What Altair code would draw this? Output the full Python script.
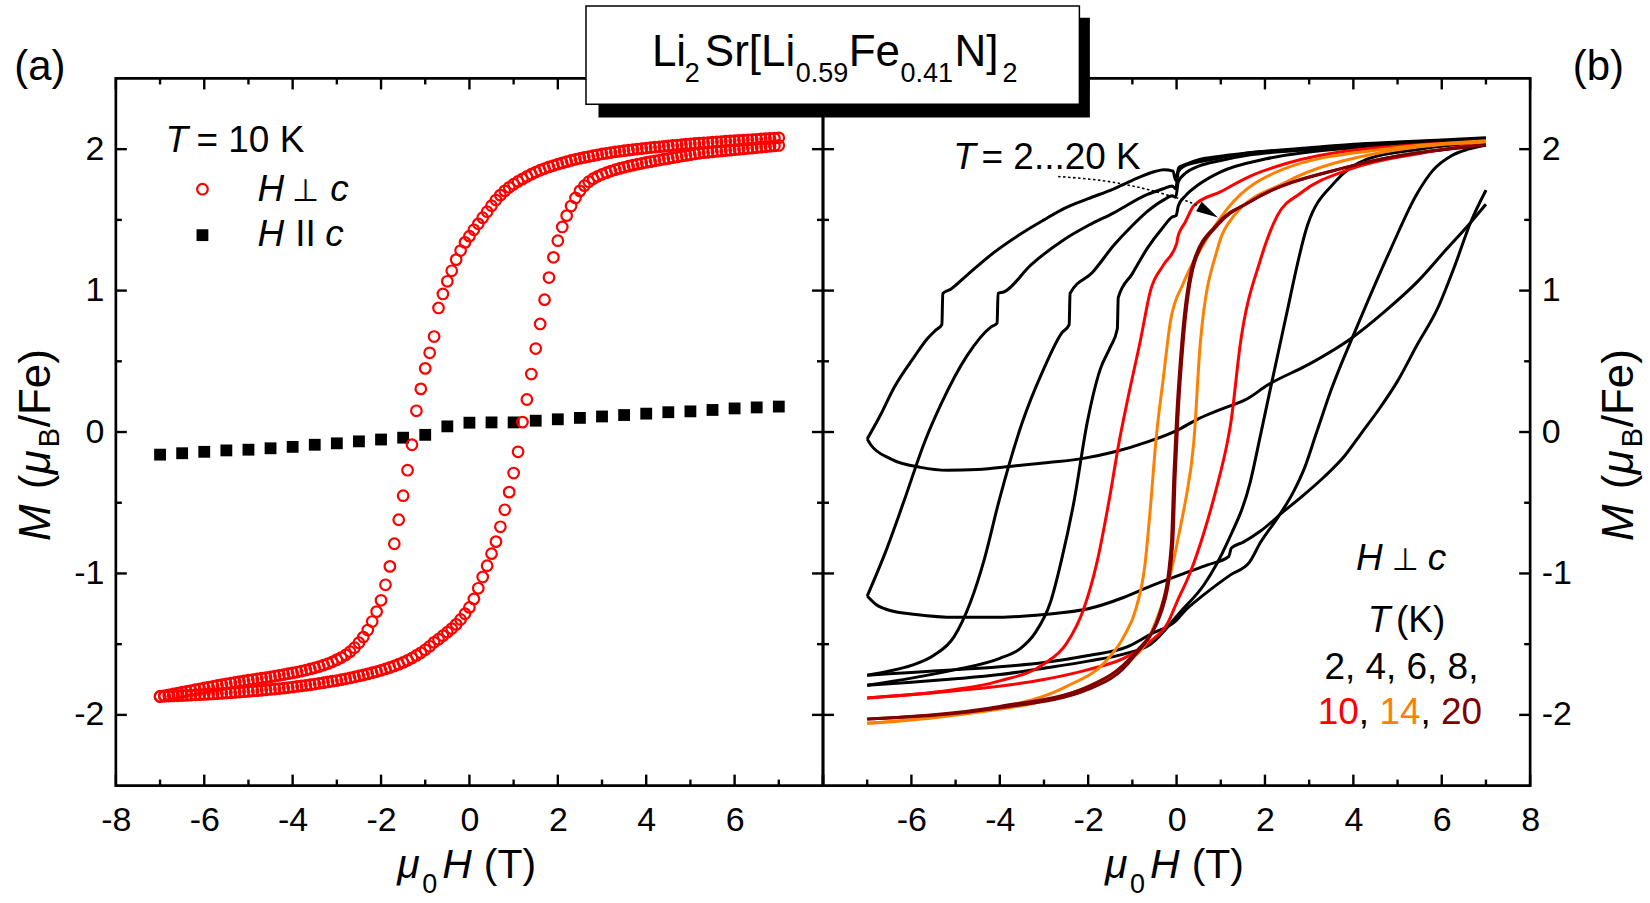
import altair as alt
import pandas as pd

FONT = "Liberation Sans, Arial, Helvetica, DejaVu Sans, sans-serif"

# ---------------------------------------------------------------------------
# (a) T = 10 K, field sweep in 0.1 T steps; magnetisation in mu_B per Fe
sweep_field = [
    -7.0, -6.9, -6.8, -6.7, -6.6, -6.5, -6.4, -6.3, -6.2, -6.1,
    -6.0, -5.9, -5.8, -5.7, -5.6, -5.5, -5.4, -5.3, -5.2, -5.1,
    -5.0, -4.9, -4.8, -4.7, -4.6, -4.5, -4.4, -4.3, -4.2, -4.1,
    -4.0, -3.9, -3.8, -3.7, -3.6, -3.5, -3.4, -3.3, -3.2, -3.1,
    -3.0, -2.9, -2.8, -2.7, -2.6, -2.5, -2.4, -2.3, -2.2, -2.1,
    -2.0, -1.9, -1.8, -1.7, -1.6, -1.5, -1.4, -1.3, -1.2, -1.1,
    -1.0, -0.9, -0.8, -0.7, -0.6, -0.5, -0.4, -0.3, -0.2, -0.1,
    0.0, 0.1, 0.2, 0.3, 0.4, 0.5, 0.6, 0.7, 0.8, 0.9,
    1.0, 1.1, 1.2, 1.3, 1.4, 1.5, 1.6, 1.7, 1.8, 1.9,
    2.0, 2.1, 2.2, 2.3, 2.4, 2.5, 2.6, 2.7, 2.8, 2.9,
    3.0, 3.1, 3.2, 3.3, 3.4, 3.5, 3.6, 3.7, 3.8, 3.9,
    4.0, 4.1, 4.2, 4.3, 4.4, 4.5, 4.6, 4.7, 4.8, 4.9,
    5.0, 5.1, 5.2, 5.3, 5.4, 5.5, 5.6, 5.7, 5.8, 5.9,
    6.0, 6.1, 6.2, 6.3, 6.4, 6.5, 6.6, 6.7, 6.8, 6.9,
    7.0,
]

# H perpendicular to c, branch measured while the field is lowered from +7 T
m_perp_down = [
    -1.870, -1.864, -1.858, -1.852, -1.846, -1.840, -1.834, -1.828, -1.822, -1.816,
    -1.810, -1.804, -1.798, -1.792, -1.786, -1.780, -1.775, -1.770, -1.765, -1.760,
    -1.755, -1.750, -1.746, -1.741, -1.736, -1.731, -1.726, -1.720, -1.715, -1.709,
    -1.703, -1.697, -1.690, -1.683, -1.675, -1.667, -1.658, -1.648, -1.637, -1.625,
    -1.610, -1.595, -1.576, -1.553, -1.525, -1.490, -1.450, -1.400, -1.340, -1.270,
    -1.190, -1.080, -0.950, -0.790, -0.620, -0.450, -0.270, -0.090, 0.150, 0.305,
    0.450, 0.560, 0.675, 0.877, 0.976, 1.066, 1.140, 1.219, 1.283, 1.341,
    1.385, 1.430, 1.472, 1.515, 1.558, 1.600, 1.640, 1.675, 1.705, 1.730,
    1.752, 1.772, 1.790, 1.807, 1.823, 1.838, 1.851, 1.863, 1.874, 1.884,
    1.894, 1.903, 1.912, 1.920, 1.928, 1.935, 1.942, 1.948, 1.954, 1.960,
    1.966, 1.971, 1.976, 1.981, 1.985, 1.989, 1.993, 1.997, 2.001, 2.004,
    2.008, 2.011, 2.014, 2.017, 2.020, 2.023, 2.026, 2.029, 2.032, 2.035,
    2.037, 2.040, 2.042, 2.045, 2.047, 2.050, 2.052, 2.054, 2.056, 2.058,
    2.060, 2.062, 2.064, 2.066, 2.068, 2.070, 2.072, 2.074, 2.076, 2.078,
    2.080,
]

# H perpendicular to c, branch measured while the field is raised from -7 T
m_perp_up = [
    -1.870, -1.869, -1.867, -1.866, -1.865, -1.863, -1.862, -1.860, -1.858, -1.857,
    -1.855, -1.854, -1.852, -1.850, -1.848, -1.846, -1.844, -1.841, -1.839, -1.836,
    -1.834, -1.831, -1.829, -1.826, -1.823, -1.820, -1.817, -1.814, -1.811, -1.807,
    -1.803, -1.799, -1.795, -1.791, -1.787, -1.782, -1.777, -1.772, -1.767, -1.762,
    -1.757, -1.751, -1.745, -1.739, -1.732, -1.725, -1.718, -1.710, -1.702, -1.694,
    -1.685, -1.675, -1.665, -1.654, -1.642, -1.629, -1.614, -1.598, -1.580, -1.561,
    -1.540, -1.515, -1.487, -1.465, -1.440, -1.415, -1.390, -1.360, -1.325, -1.285,
    -1.240, -1.180, -1.105, -1.025, -0.945, -0.860, -0.775, -0.670, -0.550, -0.425,
    -0.290, -0.140, 0.070, 0.230, 0.410, 0.590, 0.764, 0.936, 1.092, 1.235,
    1.353, 1.450, 1.530, 1.598, 1.655, 1.705, 1.742, 1.770, 1.791, 1.808,
    1.822, 1.834, 1.845, 1.855, 1.864, 1.872, 1.880, 1.887, 1.894, 1.900,
    1.906, 1.912, 1.918, 1.923, 1.929, 1.934, 1.940, 1.945, 1.951, 1.956,
    1.961, 1.966, 1.971, 1.975, 1.978, 1.981, 1.984, 1.987, 1.990, 1.993,
    1.996, 1.999, 2.002, 2.005, 2.008, 2.011, 2.014, 2.017, 2.020, 2.023,
    2.026,
]

# H parallel to c, 0.5 T steps
field_par = [-7.0, -6.5, -6.0, -5.5, -5.0, -4.5, -4.0, -3.5, -3.0, -2.5,
             -2.0, -1.5, -1.0, -0.5, 0.0, 0.5, 1.0, 1.5, 2.0, 2.5,
             3.0, 3.5, 4.0, 4.5, 5.0, 5.5, 6.0, 6.5, 7.0]
m_par = [-0.160, -0.150, -0.140, -0.130, -0.125, -0.115, -0.105, -0.090, -0.080, -0.066,
         -0.053, -0.040, -0.020, 0.040, 0.066, 0.068, 0.068, 0.080, 0.090, 0.100,
         0.110, 0.120, 0.130, 0.140, 0.146, 0.156, 0.167, 0.174, 0.180]

# ---------------------------------------------------------------------------
# (b) H perpendicular to c, full loops; (field in T, M in mu_B/Fe)
loop_2K_down = [(7.0, 2.08), (6.0, 2.065), (5.0, 2.05), (4.0, 2.035), (3.0, 2.01), (2.0, 1.985),
                (1.0, 1.95), (0.5, 1.925), (0.19, 1.89), (0.05, 1.87), (-0.02, 1.78), (-0.08, 1.845),
                (-0.29, 1.855), (-0.51, 1.84), (-1.0, 1.78), (-1.42, 1.72), (-2.0, 1.65), (-2.55, 1.58),
                (-3.0, 1.50), (-3.53, 1.40), (-4.13, 1.27), (-4.74, 1.11), (-5.11, 1.01), (-5.29, 0.98),
                (-5.31, 0.76), (-5.45, 0.72), (-5.64, 0.66), (-5.94, 0.53), (-6.4, 0.31), (-6.7, 0.12),
                (-7.0, -0.05)]
loop_2K_up = [(-7.0, -0.05), (-6.92, -0.09), (-6.47, -0.19), (-5.79, -0.25), (-5.19, -0.27),
              (-4.5, -0.265), (-3.68, -0.24), (-2.9, -0.215), (-2.17, -0.19), (-1.4, -0.14),
              (-0.66, -0.07), (0.0, 0.01), (0.47, 0.09), (1.0, 0.16), (1.6, 0.235), (2.05, 0.33),
              (3.0, 0.48), (3.94, 0.66), (4.7, 0.85), (5.44, 1.06), (6.1, 1.29), (6.65, 1.48), (7.0, 1.61)]

loop_4K_down = [(7.0, 2.07), (5.0, 2.045), (3.0, 2.0), (1.67, 1.975), (1.0, 1.94), (0.5, 1.91),
                (0.17, 1.88), (0.04, 1.84), (-0.02, 1.72), (-0.1, 1.74), (-0.3, 1.72), (-0.66, 1.68),
                (-1.42, 1.55), (-2.0, 1.46), (-2.55, 1.36), (-3.3, 1.18), (-3.91, 0.99), (-4.04, 0.98),
                (-4.06, 0.77), (-4.21, 0.74), (-4.74, 0.54), (-5.34, 0.19), (-5.7, -0.07), (-6.17, -0.49),
                (-6.6, -0.86), (-7.0, -1.16)]
loop_4K_up = [(-7.0, -1.16), (-6.8, -1.22), (-6.5, -1.26), (-5.9, -1.29), (-5.0, -1.31), (-4.0, -1.31),
              (-3.0, -1.29), (-2.0, -1.25), (-1.2, -1.17), (-0.59, -1.09), (0.17, -1.0), (0.7, -0.94),
              (1.18, -0.88), (1.24, -0.82), (1.5, -0.78), (1.9, -0.70), (2.43, -0.56), (2.86, -0.45),
              (3.33, -0.32), (3.8, -0.17), (4.2, 0.0), (4.6, 0.17), (5.0, 0.36), (5.45, 0.62),
              (5.9, 0.87), (6.3, 1.18), (6.65, 1.48), (7.0, 1.71)]

loop_6K_down = [(7.0, 2.07), (5.0, 2.04), (3.0, 1.995), (1.67, 1.96), (1.0, 1.92), (0.5, 1.88),
                (0.2, 1.83), (0.04, 1.77), (-0.02, 1.66), (-0.1, 1.67), (-0.3, 1.64), (-0.66, 1.56),
                (-1.0, 1.46), (-1.42, 1.32), (-1.9, 1.13), (-2.41, 0.98), (-2.43, 0.76), (-2.6, 0.70),
                (-3.0, 0.45), (-3.5, 0.06), (-4.02, -0.49), (-4.35, -0.9), (-4.66, -1.2), (-5.04, -1.45),
                (-5.5, -1.58), (-6.0, -1.65), (-6.5, -1.69), (-7.0, -1.72)]
loop_6K_up = [(-7.0, -1.72), (-6.0, -1.70), (-5.0, -1.68), (-4.0, -1.66), (-3.0, -1.63), (-2.0, -1.58),
              (-1.12, -1.52), (-0.59, -1.43), (0.0, -1.33), (0.17, -1.27), (0.62, -1.15), (1.22, -1.01),
              (1.65, -0.92), (1.9, -0.78), (2.3, -0.6), (2.65, -0.42), (2.9, -0.25), (3.15, -0.02),
              (3.5, 0.3), (4.09, 0.75), (4.84, 1.29), (5.45, 1.69), (5.8, 1.85), (6.2, 1.95),
              (6.6, 2.0), (7.0, 2.03)]

loop_8K_down = [(7.0, 2.06), (5.0, 2.03), (3.0, 1.98), (2.0, 1.93), (1.0, 1.84), (0.5, 1.75),
                (0.2, 1.67), (0.04, 1.60), (-0.01, 1.53), (-0.1, 1.52), (-0.3, 1.45), (-0.66, 1.30),
                (-1.0, 1.12), (-1.32, 0.95), (-1.34, 0.73), (-1.5, 0.60), (-1.72, 0.45), (-2.02, 0.07),
                (-2.32, -0.49), (-2.6, -0.9), (-2.85, -1.2), (-3.2, -1.42), (-3.53, -1.53), (-4.0, -1.6),
                (-5.0, -1.68), (-6.0, -1.74), (-7.0, -1.79)]
loop_8K_up = [(-7.0, -1.79), (-6.0, -1.77), (-5.0, -1.745), (-4.0, -1.715), (-3.0, -1.67), (-2.0, -1.62),
              (-1.2, -1.57), (-0.59, -1.50), (0.09, -1.27), (0.62, -1.08), (1.15, -0.78), (1.67, -0.35),
              (1.9, -0.02), (2.43, 0.75), (2.96, 1.46), (3.56, 1.76), (4.31, 1.93), (5.5, 2.0), (7.0, 2.05)]

loop_10K_down = [(7.0, 2.05), (3.94, 1.99), (2.5, 1.90), (1.67, 1.81), (1.0, 1.70), (0.39, 1.60),
                 (0.17, 1.47), (0.09, 1.43), (0.03, 1.38), (0.0, 1.33), (-0.3, 1.18), (-0.59, 1.0),
                 (-0.81, 0.66), (-1.12, 0.21), (-1.3, -0.07), (-1.53, -0.49), (-1.8, -0.92), (-2.1, -1.25),
                 (-2.5, -1.5), (-3.0, -1.64), (-4.0, -1.76), (-5.5, -1.84), (-7.0, -1.88)]
loop_10K_up = [(-7.0, -1.88), (-5.0, -1.83), (-3.0, -1.75), (-2.0, -1.68), (-1.2, -1.6), (-0.59, -1.48),
               (-0.2, -1.35), (0.01, -1.2), (0.3, -1.0), (0.62, -0.71), (0.9, -0.4), (1.15, -0.07),
               (1.22, 0.05), (1.45, 0.64), (1.9, 1.22), (2.28, 1.53), (2.81, 1.69), (3.94, 1.86),
               (5.5, 1.97), (7.0, 2.04)]

loop_14K_down = [(7.0, 2.06), (4.69, 2.0), (2.43, 1.86), (1.15, 1.58), (0.54, 1.29), (0.15, 1.05),
                 (-0.14, 0.78), (-0.3, 0.38), (-0.47, -0.07), (-0.58, -0.49), (-0.72, -0.95), (-0.92, -1.25),
                 (-1.2, -1.45), (-1.6, -1.62), (-2.5, -1.8), (-4.0, -1.95), (-5.5, -2.02), (-7.0, -2.06)]
loop_14K_up = [(-7.0, -2.06), (-5.0, -2.0), (-3.0, -1.9), (-2.0, -1.8), (-1.2, -1.65), (-0.59, -1.43),
               (-0.14, -1.01), (0.1, -0.65), (0.2, -0.49), (0.39, -0.07), (0.54, 0.64), (0.92, 1.29),
               (1.3, 1.53), (2.43, 1.76), (4.69, 1.98), (7.0, 2.05)]

loop_20K_down = [(7.0, 2.03), (3.94, 1.88), (1.67, 1.63), (0.92, 1.47), (0.38, 1.2), (0.12, 0.64),
                 (0.0, 0.1), (-0.06, -0.3), (-0.12, -0.8), (-0.35, -1.25), (-1.0, -1.6), (-2.0, -1.82),
                 (-4.0, -1.95), (-7.0, -2.03)]
loop_20K_up = [(-7.0, -2.03), (-4.0, -1.94), (-2.0, -1.8), (-1.0, -1.58), (-0.32, -1.25), (-0.09, -0.8),
               (-0.03, -0.3), (0.03, 0.1), (0.15, 0.64), (0.41, 1.2), (0.95, 1.47), (1.67, 1.63),
               (3.94, 1.88), (7.0, 2.03)]

loop_temps = ["2", "4", "6", "8", "10", "14", "20"]
loop_colors = ["#000000", "#000000", "#000000", "#000000", "#ff0000", "#ff8000", "#800000"]
loop_branches = [(loop_2K_down, loop_2K_up), (loop_4K_down, loop_4K_up), (loop_6K_down, loop_6K_up),
                 (loop_8K_down, loop_8K_up), (loop_10K_down, loop_10K_up), (loop_14K_down, loop_14K_up),
                 (loop_20K_down, loop_20K_up)]

# tick positions
x_major = [-8, -6, -4, -2, 0, 2, 4, 6, 8]
x_minor = [-7, -5, -3, -1, 1, 3, 5, 7]
y_major = [-2, -1, 0, 1, 2]
y_minor = [-1.5, -0.5, 0.5, 1.5]
x_labels_a = [-8, -6, -4, -2, 0, 2, 4, 6]
x_labels_b = [-6, -4, -2, 0, 2, 4, 6, 8]

# ---------------------------------------------------------------------------
# layout (pixels on the page)
PANEL_W, PANEL_H = 708, 708
X_DOMAIN, Y_DOMAIN = [-8, 8], [-2.5, 2.5]
PX_T = PANEL_W / (X_DOMAIN[1] - X_DOMAIN[0])
PX_M = PANEL_H / (Y_DOMAIN[1] - Y_DOMAIN[0])
A_LEFT, TOP = 113.3, 75.8
B_LEFT = A_LEFT + PANEL_W
MAJOR_LEN, MINOR_LEN, TICK_W = 11, 6, 2.4


def to_data(px, py, left):
    """Page pixel position -> (field, magnetisation) in a panel's frame."""
    return X_DOMAIN[0] + (px - left) / PX_T, Y_DOMAIN[1] - (py - TOP) / PX_M


xs = alt.Scale(domain=X_DOMAIN, nice=False, zero=False)
ys = alt.Scale(domain=Y_DOMAIN, nice=False, zero=False)


def xe(field="H"):
    return alt.X(f"{field}:Q", scale=xs, axis=None)


def ye(field="M"):
    return alt.Y(f"{field}:Q", scale=ys, axis=None)


LABEL_EXPR = "datum.value < 0 ? '-' + abs(datum.value) : '' + datum.value"


def label_axis(orient, values, pad):
    return alt.Axis(orient=orient, values=values, ticks=False, tickSize=0, domain=False, grid=False,
                    labelFont=FONT, labelFontSize=34, labelColor="black", labelPadding=pad,
                    labelFlush=False, labelOverlap=False, labelBound=False, labelExpr=LABEL_EXPR,
                    title=None)


def frame_layers(x_label_values, y_label_orient, y_pad):
    """Tick labels from the axes, and inward-pointing ticks on all four sides."""
    layers = [alt.Chart(pd.DataFrame({"H": [0.0], "M": [0.0]})).mark_point(opacity=0).encode(
        x=alt.X("H:Q", scale=xs, axis=label_axis("bottom", x_label_values, 17.5)),
        y=alt.Y("M:Q", scale=ys, axis=label_axis(y_label_orient, y_major, y_pad)))]
    rule = dict(color="black", strokeWidth=TICK_W)
    for vals, length in ((x_major, MAJOR_LEN), (x_minor, MINOR_LEN)):
        df = pd.DataFrame({"H": vals})
        layers.append(alt.Chart(df).mark_rule(**rule).encode(
            x=xe(), y=alt.value(PANEL_H), y2=alt.value(PANEL_H - length)))
        layers.append(alt.Chart(df).mark_rule(**rule).encode(
            x=xe(), y=alt.value(0), y2=alt.value(length)))
    for vals, length in ((y_major, MAJOR_LEN), (y_minor, MINOR_LEN)):
        df = pd.DataFrame({"M": vals})
        layers.append(alt.Chart(df).mark_rule(**rule).encode(
            y=ye(), x=alt.value(0), x2=alt.value(length)))
        layers.append(alt.Chart(df).mark_rule(**rule).encode(
            y=ye(), x=alt.value(PANEL_W), x2=alt.value(PANEL_W - length)))
    return layers


def text_layers(segments, left):
    rows = []
    for text, px, py, size, italic, color, angle in segments:
        h, m = to_data(px, py, left)
        rows.append(dict(H=h, M=m, text=text, size=size, italic=italic, color=color, angle=angle))
    df = pd.DataFrame(rows)
    layers = []
    for italic in (False, True):
        sub = df[df["italic"] == italic].drop(columns=["italic"])
        if len(sub):
            layers.append(
                alt.Chart(sub).mark_text(align="left", baseline="alphabetic", font=FONT,
                                         fontStyle="italic" if italic else "normal").encode(
                    x=xe(), y=ye(), text="text:N",
                    size=alt.Size("size:Q", scale=None, legend=None),
                    color=alt.Color("color:N", scale=None, legend=None),
                    angle=alt.Angle("angle:Q", scale=None)))
    return layers


K, RED, ORANGE, DARKRED = "#000000", "#ff0000", "#ff8000", "#800000"


def y_title(base_x, start_y):
    """Rotated 'M (mu_B/Fe)' built from runs placed along the reading direction."""
    return [
        ("M", base_x, start_y, 44, True, K, 270),
        ("(", base_x, start_y - 52, 44, False, K, 270),
        ("\u03bc", base_x, start_y - 67, 44, True, K, 270),
        ("B", base_x + 9, start_y - 94, 29, False, K, 270),
        ("/Fe)", base_x, start_y - 114, 44, False, K, 270),
    ]


# ---------------------------------------------------------------------------
# panel (a)
df_perp = pd.DataFrame({"H": sweep_field + sweep_field, "M": m_perp_down + m_perp_up})
df_par = pd.DataFrame({"H": field_par, "M": m_par})

squares = alt.Chart(df_par).mark_square(size=140, color="black", opacity=1).encode(x=xe(), y=ye())
circles = alt.Chart(df_perp).mark_point(shape="circle", filled=False, size=112, color="#ff0000",
                                        strokeWidth=2.2, opacity=1).encode(x=xe(), y=ye())

lc_h, lc_m = to_data(200, 186.7, A_LEFT)
ls_h, ls_m = to_data(200, 232.7, A_LEFT)
legend_circle = alt.Chart(pd.DataFrame({"H": [lc_h], "M": [lc_m]})).mark_point(
    shape="circle", filled=False, size=112, color="#ff0000", strokeWidth=2.2, opacity=1).encode(x=xe(), y=ye())
legend_square = alt.Chart(pd.DataFrame({"H": [ls_h], "M": [ls_m]})).mark_square(
    size=140, color="black", opacity=1).encode(x=xe(), y=ye())

an_h, an_m = to_data(0, 0, A_LEFT)
anchor = alt.Chart(pd.DataFrame({"H": [an_h], "M": [an_m]})).mark_point(
    size=1, filled=True, opacity=0, strokeWidth=0).encode(x=xe(), y=ye())

Y_TITLE_START = 539
seg_a = [
    ("(a)", 11.5, 77.0, 42, False, K, 0),
    ("T", 163, 149.3, 37, True, K, 0), ("= 10 K", 194, 149.3, 37, False, K, 0),
    ("H", 255, 198.3, 37, True, K, 0), ("\u22a5", 290, 198.3, 31, False, K, 0), ("c", 328, 198.3, 37, True, K, 0),
    ("H", 255, 244.0, 37, True, K, 0), ("II", 293, 244.0, 37, False, K, 0), ("c", 323, 244.0, 37, True, K, 0),
    ("\u03bc", 395, 876.7, 41, True, K, 0), ("0", 420, 891.7, 27, False, K, 0),
    ("H", 440, 876.7, 41, True, K, 0), ("(T)", 481.7, 876.7, 41, False, K, 0),
] + y_title(47, Y_TITLE_START)

panel_a = alt.layer(
    *frame_layers(x_labels_a, "left", 12),
    squares, circles, legend_circle, legend_square, anchor,
    *text_layers(seg_a, A_LEFT),
).properties(width=PANEL_W, height=PANEL_H).resolve_axis(x="independent", y="independent")

# ---------------------------------------------------------------------------
# panel (b)
loop_layers = []
for temp, color, (down, up) in zip(loop_temps, loop_colors, loop_branches):
    rows = [{"H": h, "M": m, "branch": "down"} for h, m in down] + \
           [{"H": h, "M": m, "branch": "up"} for h, m in up]
    loop_layers.append(
        alt.Chart(pd.DataFrame(rows)).mark_line(color=color, strokeWidth=3, interpolate="monotone",
                                                strokeJoin="round").encode(
            x=xe(), y=ye(), detail="branch:N"))

arrow_px = [(1056.7, 174.0), (1113.3, 180.0), (1163.3, 191.7), (1196.7, 203.3), (1206.0, 208.6)]
arrow_df = pd.DataFrame([dict(zip(("H", "M"), to_data(x, y, B_LEFT))) for x, y in arrow_px])
arrow_line = alt.Chart(arrow_df).mark_line(color="black", strokeWidth=1.6, strokeDash=[2.5, 2.5],
                                           interpolate="monotone").encode(x=xe(), y=ye())
ah_h, ah_m = to_data(1207.2, 209.5, B_LEFT)
arrow_head = alt.Chart(pd.DataFrame({"H": [ah_h], "M": [ah_m]})).mark_point(
    shape="M1,0L-1,-0.5L-1,0.5Z", filled=True, color="black", size=484, angle=30,
    strokeWidth=0, opacity=1).encode(x=xe(), y=ye())


def rect_df(x1, y1, x2, y2):
    h1, m1 = to_data(x1, y1, B_LEFT)
    h2, m2 = to_data(x2, y2, B_LEFT)
    return pd.DataFrame({"H": [h1], "M": [m1], "H2": [h2], "M2": [m2]})


box_shadow = alt.Chart(rect_df(596.5, 15.0, 1088.5, 115.0)).mark_rect(color="black").encode(
    x=xe("H"), x2="H2:Q", y=ye("M"), y2="M2:Q")
box = alt.Chart(rect_df(584.0, 3.3, 1078.0, 101.7)).mark_rect(
    fill="white", stroke="black", strokeWidth=1.5).encode(x=xe("H"), x2="H2:Q", y=ye("M"), y2="M2:Q")

seg_b = [
    ("(b)", 1572, 77.8, 42, False, K, 0),
    ("Li", 650, 63.3, 44, False, K, 0), ("2", 683, 79, 27, False, K, 0),
    ("Sr[Li", 703, 63.3, 44, False, K, 0), ("0.59", 794, 79, 27, False, K, 0),
    ("Fe", 847, 63.3, 44, False, K, 0), ("0.41", 899, 79, 27, False, K, 0),
    ("N]", 953, 63.3, 44, False, K, 0), ("2", 1001, 79, 27, False, K, 0),
    ("T", 951.7, 166.7, 37, True, K, 0), ("= 2...20 K", 980, 166.7, 37, False, K, 0),
    ("H", 1355, 568.3, 37, True, K, 0), ("\u22a5", 1391, 568.3, 31, False, K, 0), ("c", 1426.7, 568.3, 37, True, K, 0),
    ("T", 1366.7, 630, 37, True, K, 0), ("(K)", 1395, 630, 37, False, K, 0),
    ("2, 4, 6, 8,", 1323.3, 676.7, 37, False, K, 0),
    ("10", 1316.7, 721.7, 37, False, RED, 0), (",", 1357.8, 721.7, 37, False, K, 0),
    ("14", 1378.4, 721.7, 37, False, ORANGE, 0), (",", 1419.5, 721.7, 37, False, K, 0),
    ("20", 1440.1, 721.7, 37, False, DARKRED, 0),
    ("\u03bc", 1103.7, 876.7, 41, True, K, 0), ("0", 1128.7, 891.7, 27, False, K, 0),
    ("H", 1148.7, 876.7, 41, True, K, 0), ("(T)", 1190.4, 876.7, 41, False, K, 0),
] + y_title(1632, Y_TITLE_START)

panel_b = alt.layer(
    *frame_layers(x_labels_b, "right", 11),
    *loop_layers, arrow_line, arrow_head, box_shadow, box,
    *text_layers(seg_b, B_LEFT),
).properties(width=PANEL_W, height=PANEL_H).resolve_axis(x="independent", y="independent")

chart = alt.hconcat(panel_a, panel_b, spacing=0, bounds="flush").properties(
    padding=0, background="white"
).configure_view(stroke="black", strokeWidth=2.7)

chart.save("out.html", embed_options={"renderer": "svg", "actions": False})
